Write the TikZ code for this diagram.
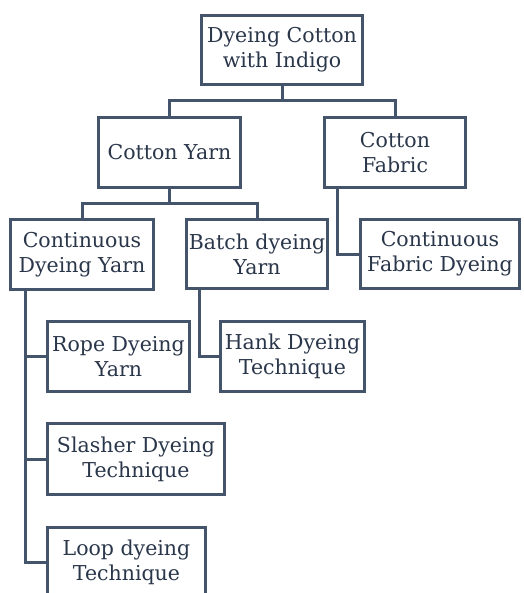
\documentclass[tikz,border=0pt]{standalone}
\usepackage{fontspec}
\setmainfont{DejaVu Serif}
\usetikzlibrary{calc}
\definecolor{linec}{HTML}{44546A}
\definecolor{textc}{HTML}{2A364A}
\begin{document}
\begin{tikzpicture}[x=1pt,y=-1pt,
  box/.style={draw=linec,line width=3pt,rectangle,inner sep=0pt,align=center,
    text=textc,font=\fontsize{20.5}{25}\selectfont},
  conn/.style={draw=linec,line width=3pt}]
\clip (0,0) rectangle (523,593);
\fill[white] (0,0) rectangle (523,593);
\node[box,minimum width=161,minimum height=69] (top) at (282,50) {Dyeing Cotton\\with Indigo};
\node[box,minimum width=142,minimum height=70] (cy) at (169.5,152.5) {Cotton Yarn};
\node[box,minimum width=141,minimum height=70] (cf) at (395,152.5) {Cotton\\Fabric};
\node[box,minimum width=143,minimum height=70] (cdy) at (82,254.5) {Continuous\\Dyeing Yarn};
\node[box,minimum width=141,minimum height=69] (bdy) at (257,254) {Batch dyeing\\Yarn};
\node[box,minimum width=159,minimum height=69] (cfd) at (440,254) {Continuous\\Fabric Dyeing};
\node[box,minimum width=142,minimum height=70] (rope) at (118.5,356.5) {Rope Dyeing\\Yarn};
\node[box,minimum width=144,minimum height=70] (hank) at (292.5,356.5) {Hank Dyeing\\Technique};
\node[box,minimum width=177,minimum height=71] (slash) at (136,459) {Slasher Dyeing\\Technique};
\node[box,minimum width=158,minimum height=69] (loop) at (126.5,562) {Loop dyeing\\Technique};
% top -> level 1
\draw[conn] (top.south) -- ($(top.south)+(0,15)$) -| (cy.north);
\draw[conn] ($(top.south)+(0,15)$) -| (cf.north);
% cotton yarn -> level 2
\draw[conn] (cy.south) -- ($(cy.south)+(0,15)$) -| (cdy.north);
\draw[conn] ($(cy.south)+(0,15)$) -| (bdy.north);
% cotton fabric -> continuous fabric dyeing
\draw[conn] ($(cf.south west)+(14,0)$) |- (cfd.west);
% continuous dyeing yarn -> children
\draw[conn] ($(cdy.south west)+(16,0)$) |- (loop.west);
\draw[conn] ($(cdy.south west)+(16,0)$) |- (rope.west);
\draw[conn] ($(cdy.south west)+(16,0)$) |- (slash.west);
% batch -> hank
\draw[conn] ($(bdy.south west)+(14,0)$) |- (hank.west);
\end{tikzpicture}
\end{document}
